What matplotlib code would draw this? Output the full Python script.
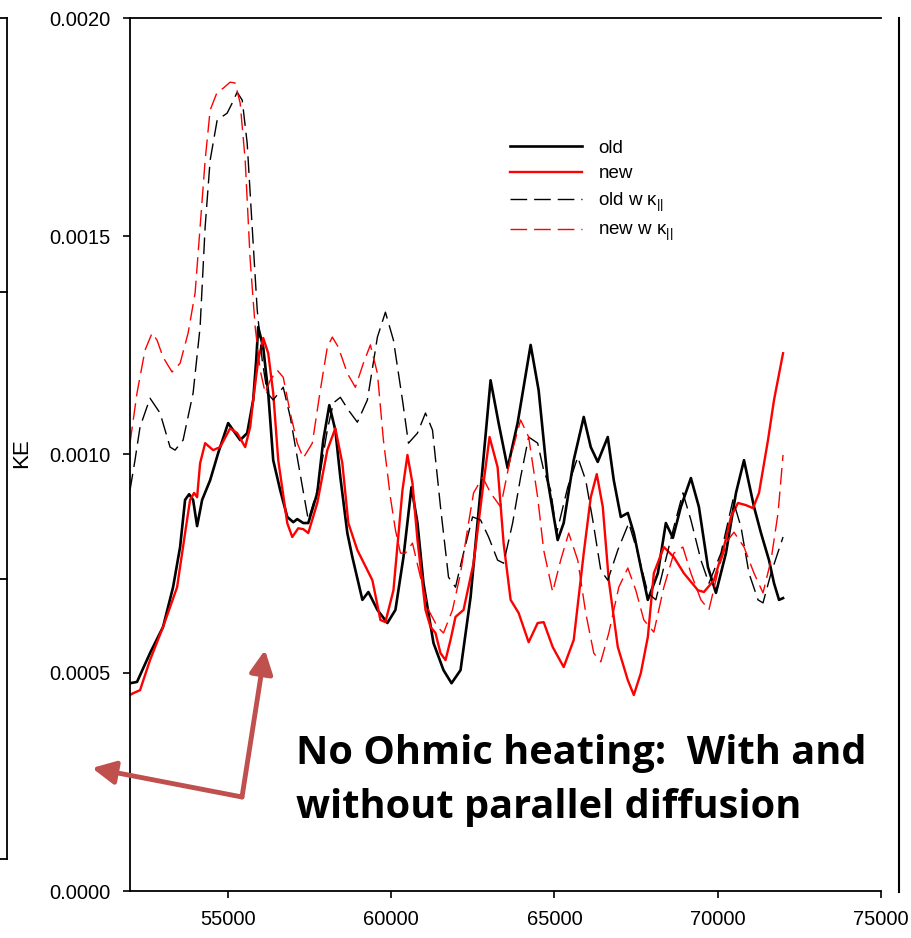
import matplotlib
matplotlib.use("Agg")
import matplotlib.pyplot as plt
from matplotlib.lines import Line2D
from matplotlib.patches import FancyArrowPatch

plt.rcParams['font.family'] = ['Liberation Sans', 'DejaVu Sans']
plt.rcParams['mathtext.default'] = 'regular'

# ---- data (time vs kinetic energy) ----
old_x = [52000, 52215, 52613, 53012, 53319, 53534, 53687, 53810, 53933, 54055, 54209, 54454,
         54699, 55006, 55374, 55589, 55773, 55865, 55926, 56080, 56233, 56386, 56601, 56816,
         57000, 57123, 57307, 57460, 57736, 57920, 58104, 58288, 58442, 58656, 58810, 59117,
         59301, 59577, 59883, 60129, 60375, 60620, 60804, 60988, 61295, 61601, 61847, 62123,
         62430, 62736, 63043, 63289, 63565, 63871, 64270, 64515, 64792, 65098, 65282, 65589,
         65896, 66111, 66325, 66632, 66816, 67031, 67246, 67430, 67644, 67859, 68166, 68411,
         68626, 68871, 69178, 69423, 69700, 69945, 70251, 70559, 70804, 71111, 71325, 71570,
         71724, 71877, 72000]
old_y = [0.000476, 0.000479, 0.000545, 0.000605, 0.000696, 0.000788, 0.000896, 0.000909,
         0.000896, 0.000836, 0.000896, 0.000941, 0.001003, 0.001072, 0.001033, 0.001049,
         0.001125, 0.001216, 0.001292, 0.001246, 0.001141, 0.000987, 0.000918, 0.000857,
         0.000845, 0.000852, 0.000843, 0.000843, 0.000912, 0.001033, 0.001113, 0.001056,
         0.000948, 0.000820, 0.000765, 0.000667, 0.000685, 0.000644, 0.000614, 0.000644,
         0.000765, 0.000925, 0.000843, 0.000705, 0.000568, 0.000506, 0.000476, 0.000506,
         0.000673, 0.000918, 0.001170, 0.001072, 0.000969, 0.001072, 0.001251, 0.001147,
         0.000941, 0.000804, 0.000843, 0.000987, 0.001086, 0.001017, 0.000983, 0.001040,
         0.000941, 0.000857, 0.000866, 0.000820, 0.000742, 0.000667, 0.000728, 0.000843,
         0.000809, 0.000880, 0.000946, 0.000880, 0.000742, 0.000683, 0.000774, 0.000912,
         0.000987, 0.000880, 0.000820, 0.000758, 0.000705, 0.000667, 0.000671]

new_x = [52000, 52092, 52307, 52613, 53012, 53442, 53687, 53840, 53963, 54055, 54147, 54301,
         54546, 54761, 55067, 55282, 55528, 55681, 55773, 55926, 56080, 56233, 56386, 56540,
         56816, 56969, 57153, 57307, 57460, 57736, 58043, 58288, 58503, 58687, 58963, 59270,
         59423, 59669, 59822, 60068, 60344, 60497, 60651, 60804, 61049, 61203, 61356, 61509,
         61663, 61816, 61969, 62215, 62522, 62798, 63012, 63258, 63442, 63657, 63902, 64209,
         64485, 64669, 64945, 65282, 65589, 65896, 66111, 66295, 66479, 66663, 66939, 67246,
         67430, 67644, 67859, 68043, 68350, 68656, 68963, 69393, 69577, 69884, 70190, 70405,
         70620, 70865, 71080, 71264, 71539, 71724, 72000]
new_y = [0.000449, 0.000453, 0.000460, 0.000529, 0.000605, 0.000696, 0.000820, 0.000896,
         0.000912, 0.000902, 0.000980, 0.001026, 0.001010, 0.001017, 0.001060, 0.001049,
         0.001017, 0.001063, 0.001125, 0.001216, 0.001267, 0.001232, 0.001141, 0.000987,
         0.000843, 0.000811, 0.000831, 0.000829, 0.000820, 0.000889, 0.001010, 0.001060,
         0.000980, 0.000843, 0.000781, 0.000735, 0.000712, 0.000621, 0.000616, 0.000689,
         0.000918, 0.000999, 0.000934, 0.000804, 0.000644, 0.000605, 0.000591, 0.000545,
         0.000529, 0.000575, 0.000628, 0.000644, 0.000751, 0.000918, 0.001040, 0.000971,
         0.000797, 0.000667, 0.000637, 0.000570, 0.000614, 0.000616, 0.000559, 0.000513,
         0.000575, 0.000774, 0.000902, 0.000955, 0.000880, 0.000712, 0.000559, 0.000483,
         0.000449, 0.000499, 0.000582, 0.000728, 0.000788, 0.000765, 0.000728, 0.000689,
         0.000685, 0.000712, 0.000788, 0.000857, 0.000889, 0.000884, 0.000877, 0.000912,
         0.001033, 0.001125, 0.001232]

oldk_x = [52000, 52153, 52307, 52613, 52920, 53227, 53380, 53626, 53933, 54147, 54301, 54454,
          54669, 54975, 55129, 55282, 55436, 55589, 55742, 55896, 56049, 56203, 56386, 56693,
          56908, 57153, 57368, 57460, 57736, 58043, 58227, 58442, 58687, 58963, 59270, 59577,
          59822, 60068, 60344, 60528, 60804, 61049, 61264, 61509, 61755, 61969, 62184, 62491,
          62736, 62982, 63258, 63442, 63718, 63963, 64209, 64485, 64669, 64884, 65067, 65405,
          65712, 65957, 66172, 66418, 66632, 66939, 67276, 67552, 67859, 68104, 68350, 68656,
          68932, 69178, 69485, 69730, 70098, 70466, 70712, 70957, 71233, 71386, 71632, 72000]
oldk_y = [0.000918, 0.000987, 0.001063, 0.001129, 0.001095, 0.001017, 0.001010, 0.001033,
          0.001141, 0.001292, 0.001521, 0.001674, 0.001766, 0.001782, 0.001805, 0.001830,
          0.001812, 0.001713, 0.001521, 0.001331, 0.001216, 0.001141, 0.001125, 0.001154,
          0.001086, 0.000980, 0.000889, 0.000850, 0.000918, 0.001056, 0.001118, 0.001131,
          0.001102, 0.001074, 0.001125, 0.001269, 0.001326, 0.001262, 0.001125, 0.001026,
          0.001049, 0.001095, 0.001056, 0.000880, 0.000719, 0.000696, 0.000765, 0.000857,
          0.000850, 0.000811, 0.000758, 0.000751, 0.000843, 0.000948, 0.001040, 0.001026,
          0.000964, 0.000918, 0.000820, 0.000925, 0.000994, 0.000941, 0.000850, 0.000735,
          0.000712, 0.000781, 0.000843, 0.000774, 0.000683, 0.000667, 0.000742, 0.000834,
          0.000912, 0.000850, 0.000758, 0.000705, 0.000774, 0.000896, 0.000834, 0.000728,
          0.000667, 0.000660, 0.000728, 0.000811]

newk_x = [52000, 52215, 52460, 52675, 52828, 53012, 53288, 53534, 53779, 53994, 54147, 54301,
          54454, 54669, 54853, 55067, 55221, 55374, 55528, 55681, 55834, 55988, 56141, 56294,
          56509, 56693, 56908, 57123, 57307, 57583, 57828, 58043, 58196, 58380, 58656, 58902,
          59147, 59362, 59577, 59761, 59975, 60129, 60283, 60436, 60651, 60896, 61141, 61417,
          61601, 61877, 62123, 62368, 62522, 62798, 63043, 63350, 63657, 63963, 64209, 64485,
          64669, 64945, 65190, 65436, 65712, 65957, 66203, 66418, 66663, 66970, 67246, 67491,
          67736, 68043, 68350, 68656, 68932, 69178, 69485, 69730, 70037, 70313, 70497, 70804,
          71111, 71386, 71632, 71847, 72000]
newk_y = [0.001026, 0.001141, 0.001239, 0.001278, 0.001262, 0.001223, 0.001189, 0.001209,
          0.001278, 0.001370, 0.001521, 0.001674, 0.001789, 0.001830, 0.001839, 0.001853,
          0.001851, 0.001805, 0.001674, 0.001445, 0.001292, 0.001193, 0.001141, 0.001170,
          0.001193, 0.001177, 0.001095, 0.001026, 0.000992, 0.001026, 0.001147, 0.001246,
          0.001269, 0.001246, 0.001186, 0.001154, 0.001209, 0.001251, 0.001186, 0.001033,
          0.000902, 0.000827, 0.000774, 0.000774, 0.000797, 0.000719, 0.000644, 0.000605,
          0.000591, 0.000644, 0.000728, 0.000843, 0.000912, 0.000948, 0.000912, 0.000880,
          0.000994, 0.001079, 0.001040, 0.000902, 0.000781, 0.000685, 0.000758, 0.000820,
          0.000758, 0.000637, 0.000545, 0.000525, 0.000591, 0.000696, 0.000740, 0.000689,
          0.000621, 0.000593, 0.000696, 0.000774, 0.000788, 0.000728, 0.000667, 0.000644,
          0.000742, 0.000804, 0.000822, 0.000788, 0.000728, 0.000683, 0.000758, 0.000866,
          0.000999]

series_labels = ['old', 'new', 'old w κ$_{||}$', 'new w κ$_{||}$']
x_ticks = [55000, 60000, 65000, 70000, 75000]
y_ticks = [0.0000, 0.0005, 0.0010, 0.0015, 0.0020]
annotation = "No Ohmic heating:  With and\nwithout parallel diffusion"

W, H = 912, 938
fig = plt.figure(figsize=(W / 100, H / 100), dpi=100)
ax = fig.add_axes([130 / W, 1 - 891 / H, 751 / W, 873 / H])

ax.plot(old_x, old_y, color='black', lw=1.9, label=series_labels[0])
ax.plot(new_x, new_y, color='#ff0000', lw=1.7, label=series_labels[1])
ax.plot(oldk_x, oldk_y, color='black', lw=1.0, dashes=(12, 5), label=series_labels[2])
ax.plot(newk_x, newk_y, color='#ff0000', lw=1.0, dashes=(12, 5), label=series_labels[3])

ax.set_xlim(52000, 75000)
ax.set_ylim(0, 0.002)
ax.set_xticks(x_ticks)
ax.set_xticklabels([str(v) for v in x_ticks])
ax.set_yticks(y_ticks)
ax.set_yticklabels([f"{v:.4f}" for v in y_ticks])
ax.tick_params(direction='out', length=5, width=1.2, labelsize=14.5)
ax.tick_params(axis='y', pad=9)
ax.tick_params(axis='x', pad=9)
ax.spines['right'].set_visible(False)
for s in ['left', 'bottom', 'top']:
    ax.spines[s].set_linewidth(1.3)

fig.text(22 / W, 1 - 453 / H, 'KE', rotation=90, ha='center', va='center', fontsize=16)

leg = ax.legend(loc='upper left', bbox_to_anchor=(501 / W, 1 - 130 / H),
                bbox_transform=fig.transFigure, frameon=False, fontsize=13.5,
                handlelength=3.8, handletextpad=0.9, labelspacing=0.45, borderpad=0)

# remnants of neighbouring frames
lc = 'black'
fig.add_artist(Line2D([7 / W, 7 / W], [1 - 18 / H, 1 - 859 / H], color=lc, lw=1.3))
for yy in [18, 292, 579, 859]:
    fig.add_artist(Line2D([0, 7 / W], [1 - yy / H, 1 - yy / H], color=lc, lw=1.3))
fig.add_artist(Line2D([899 / W, 899 / W], [1 - 18 / H, 1 - 892 / H], color=lc, lw=1.5))

# arrows
ac = '#c0504d'
for tip in [(92, 768), (265, 650)]:
    arr = FancyArrowPatch(posA=(242 / W, 1 - 797 / H), posB=(tip[0] / W, 1 - tip[1] / H),
                          transform=fig.transFigure, arrowstyle='-|>,head_length=14,head_width=7',
                          mutation_scale=1, color=ac, lw=3.5, shrinkA=0, shrinkB=0)
    fig.add_artist(arr)

fig.text(296 / W, 1 - 734 / H, annotation, ha='left', va='top', fontsize=28.6,
         fontweight='bold', family=['Open Sans', 'DejaVu Sans'], linespacing=1.5)

fig.savefig('out.png', dpi=100)
